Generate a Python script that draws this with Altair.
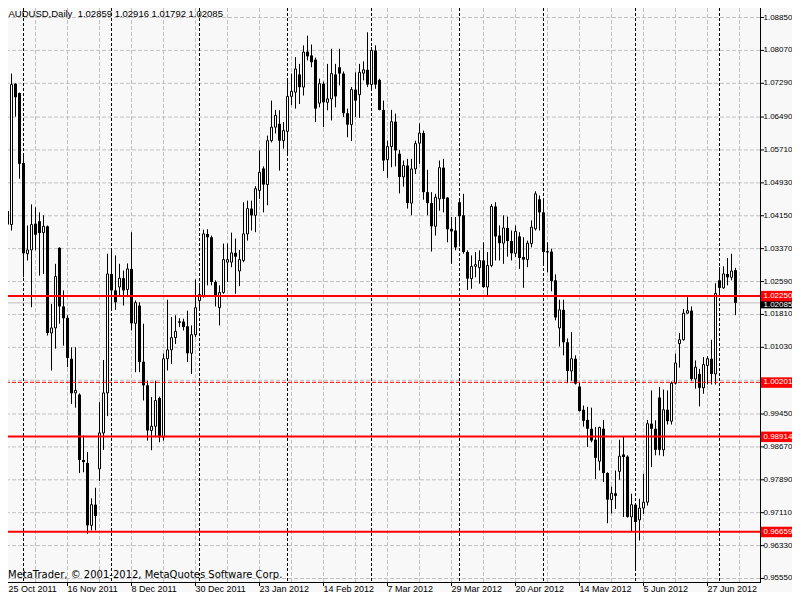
import altair as alt
import pandas as pd

# ---------------- data ----------------
bar_index = list(range(184))  # 0 = 25 Oct 2011 ... 183 = 6 Jul 2012 (daily bars)

opens = [1.0471, 1.0426, 1.0394, 1.0728, 1.0706, 1.0540, 1.0325, 1.0334, 1.0396, 1.0402,
         1.0375, 1.0390, 1.0137, 1.0149, 1.0339, 1.0200, 1.0173, 1.0076, 0.9995, 0.9991,
         0.9836, 0.9829, 0.9681, 0.9730, 0.9815, 0.9900, 0.9995, 1.0277, 1.0238, 1.0246,
         1.0267, 1.0240, 1.0289, 1.0160, 1.0202, 1.0069, 1.0013, 0.9906, 0.9916, 0.9983,
         0.9890, 1.0076, 1.0097, 1.0126, 1.0162, 1.0164, 1.0153, 1.0089, 1.0133, 1.0214,
         1.0226, 1.0372, 1.0364, 1.0258, 1.0197, 1.0233, 1.0305, 1.0305, 1.0327, 1.0284,
         1.0309, 1.0372, 1.0432, 1.0416, 1.0475, 1.0527, 1.0489, 1.0593, 1.0625, 1.0633,
         1.0593, 1.0615, 1.0698, 1.0708, 1.0750, 1.0720, 1.0804, 1.0795, 1.0785, 1.0682,
         1.0728, 1.0684, 1.0692, 1.0750, 1.0767, 1.0752, 1.0658, 1.0631, 1.0714, 1.0702,
         1.0753, 1.0761, 1.0726, 1.0807, 1.0737, 1.0666, 1.0548, 1.0579, 1.0638, 1.0562,
         1.0507, 1.0534, 1.0445, 1.0526, 1.0587, 1.0611, 1.0471, 1.0445, 1.0390, 1.0455,
         1.0529, 1.0458, 1.0384, 1.0380, 1.0447, 1.0416, 1.0329, 1.0266, 1.0295, 1.0292,
         1.0309, 1.0246, 1.0297, 1.0437, 1.0368, 1.0350, 1.0386, 1.0355, 1.0326, 1.0366,
         1.0317, 1.0311, 1.0349, 1.0384, 1.0454, 1.0423, 1.0331, 1.0330, 1.0262, 1.0149,
         1.0192, 1.0115, 1.0047, 1.0076, 1.0010, 0.9955, 0.9931, 0.9910, 0.9884, 0.9833,
         0.9910, 0.9805, 0.9742, 0.9757, 0.9809, 0.9849, 0.9844, 0.9701, 0.9730, 0.9694,
         0.9722, 0.9736, 0.9922, 0.9910, 0.9984, 0.9860, 0.9955, 0.9928, 1.0018, 1.0112,
         1.0121, 1.0184, 1.0190, 1.0028, 1.0040, 1.0007, 1.0060, 1.0076, 1.0040, 1.0262,
         1.0244, 1.0277, 1.0269, 1.02859]

highs = [1.0495, 1.0432, 1.0752, 1.0729, 1.0707, 1.0563, 1.0392, 1.0442, 1.0435, 1.0423,
         1.0416, 1.0392, 1.0206, 1.0301, 1.0340, 1.0238, 1.0179, 1.0103, 1.0103, 0.9994,
         0.9894, 0.9855, 0.9745, 0.9770, 0.9973, 1.0073, 1.0325, 1.0333, 1.0321, 1.0301,
         1.0285, 1.0302, 1.0376, 1.0214, 1.0210, 1.0159, 1.0024, 0.9985, 1.0024, 0.9986,
         1.0088, 1.0216, 1.0175, 1.0179, 1.0172, 1.0171, 1.0190, 1.0155, 1.0264, 1.0250,
         1.0382, 1.0383, 1.0368, 1.0262, 1.0250, 1.0349, 1.0349, 1.0375, 1.0361, 1.0334,
         1.0447, 1.0451, 1.0451, 1.0485, 1.0570, 1.0532, 1.0605, 1.0688, 1.0666, 1.0665,
         1.0637, 1.0736, 1.0752, 1.0791, 1.0775, 1.0819, 1.0842, 1.0821, 1.0790, 1.0740,
         1.0733, 1.0775, 1.0811, 1.0775, 1.0811, 1.0757, 1.0669, 1.0720, 1.0755, 1.0775,
         1.0781, 1.0850, 1.0815, 1.0819, 1.0740, 1.0688, 1.0593, 1.0666, 1.0657, 1.0571,
         1.0546, 1.0550, 1.0550, 1.0593, 1.0634, 1.0617, 1.0524, 1.0471, 1.0467, 1.0546,
         1.0550, 1.0459, 1.0412, 1.0412, 1.0455, 1.0467, 1.0333, 1.0321, 1.0329, 1.0333,
         1.0352, 1.0329, 1.0443, 1.0447, 1.0392, 1.0416, 1.0413, 1.0380, 1.0392, 1.0376,
         1.0364, 1.0356, 1.0404, 1.0473, 1.0463, 1.0455, 1.0352, 1.0337, 1.0276, 1.0216,
         1.0216, 1.0124, 1.0139, 1.0084, 1.0020, 0.9965, 0.9962, 0.9960, 0.9914, 0.9915,
         0.9931, 0.9807, 0.9773, 0.9811, 0.9884, 0.9891, 0.9847, 0.9756, 0.9733, 0.9744,
         0.9803, 0.9931, 1.0001, 0.9930, 1.0009, 1.0003, 1.0001, 1.0022, 1.0088, 1.0137,
         1.0194, 1.0222, 1.0200, 1.0072, 1.0052, 1.0080, 1.0082, 1.0121, 1.0255, 1.0293,
         1.0295, 1.0315, 1.0325, 1.02916]

lows = [1.0396, 1.0317, 1.0380, 1.0650, 1.0503, 1.0269, 1.0309, 1.0198, 1.0333, 1.0273,
        1.0277, 1.0131, 1.0048, 1.0100, 1.0159, 1.0107, 1.0056, 0.9969, 0.9960, 0.9805,
        0.9807, 0.9661, 0.9669, 0.9669, 0.9786, 0.9860, 0.9940, 1.0192, 1.0192, 1.0226,
        1.0202, 1.0222, 1.0143, 1.0044, 1.0044, 0.9977, 0.9882, 0.9859, 0.9890, 0.9878,
        0.9882, 1.0048, 1.0064, 1.0111, 1.0151, 1.0143, 1.0068, 1.0040, 1.0127, 1.0190,
        1.0221, 1.0250, 1.0250, 1.0200, 1.0155, 1.0230, 1.0258, 1.0293, 1.0230, 1.0248,
        1.0305, 1.0356, 1.0380, 1.0376, 1.0455, 1.0423, 1.0440, 1.0589, 1.0610, 1.0522,
        1.0574, 1.0558, 1.0677, 1.0669, 1.0680, 1.0700, 1.0783, 1.0767, 1.0637, 1.0672,
        1.0625, 1.0665, 1.0641, 1.0672, 1.0724, 1.0649, 1.0601, 1.0592, 1.0649, 1.0647,
        1.0736, 1.0720, 1.0716, 1.0716, 1.0665, 1.0521, 1.0505, 1.0530, 1.0532, 1.0468,
        1.0484, 1.0432, 1.0416, 1.0514, 1.0538, 1.0453, 1.0416, 1.0330, 1.0368, 1.0427,
        1.0423, 1.0352, 1.0301, 1.0333, 1.0342, 1.0325, 1.0239, 1.0242, 1.0269, 1.0254,
        1.0244, 1.0226, 1.0293, 1.0309, 1.0309, 1.0301, 1.0318, 1.0309, 1.0317, 1.0289,
        1.0244, 1.0293, 1.0340, 1.0380, 1.0380, 1.0301, 1.0281, 1.0236, 1.0167, 1.0105,
        1.0084, 1.0018, 1.0024, 1.0015, 0.9951, 0.9915, 0.9867, 0.9878, 0.9791, 0.9811,
        0.9784, 0.9686, 0.9709, 0.9720, 0.9789, 0.9701, 0.9699, 0.9667, 0.9579, 0.9645,
        0.9708, 0.9728, 0.9819, 0.9847, 0.9847, 0.9845, 0.9920, 0.9920, 1.0015, 1.0055,
        1.0119, 1.0183, 1.0024, 1.0005, 0.9963, 0.9993, 1.0015, 1.0015, 1.0015, 1.0230,
        1.0242, 1.0250, 1.0262, 1.01792]

closes = [1.0423, 1.0394, 1.0726, 1.0696, 1.0538, 1.0326, 1.0334, 1.0394, 1.0370, 1.0374,
          1.0390, 1.0137, 1.0149, 1.0271, 1.0200, 1.0172, 1.0078, 0.9994, 1.0001, 0.9836,
          0.9831, 0.9681, 0.9730, 0.9703, 0.9900, 0.9995, 1.0277, 1.0238, 1.0210, 1.0267,
          1.0238, 1.0289, 1.0160, 1.0209, 1.0068, 1.0013, 0.9906, 0.9916, 0.9977, 0.9890,
          1.0076, 1.0097, 1.0126, 1.0141, 1.0164, 1.0151, 1.0089, 1.0133, 1.0197, 1.0228,
          1.0372, 1.0364, 1.0258, 1.0226, 1.0233, 1.0311, 1.0311, 1.0327, 1.0318, 1.0311,
          1.0372, 1.0432, 1.0416, 1.0479, 1.0518, 1.0489, 1.0593, 1.0625, 1.0653, 1.0593,
          1.0617, 1.0698, 1.0710, 1.0763, 1.0720, 1.0803, 1.0793, 1.0779, 1.0669, 1.0728,
          1.0684, 1.0692, 1.0752, 1.0698, 1.0752, 1.0658, 1.0631, 1.0714, 1.0688, 1.0755,
          1.0761, 1.0726, 1.0807, 1.0726, 1.0666, 1.0546, 1.0579, 1.0638, 1.0570, 1.0507,
          1.0534, 1.0445, 1.0526, 1.0586, 1.0611, 1.0471, 1.0445, 1.0390, 1.0459, 1.0529,
          1.0455, 1.0383, 1.0378, 1.0340, 1.0414, 1.0329, 1.0266, 1.0295, 1.0299, 1.0309,
          1.0246, 1.0297, 1.0437, 1.0366, 1.0350, 1.0386, 1.0355, 1.0326, 1.0378, 1.0315,
          1.0311, 1.0350, 1.0388, 1.0467, 1.0423, 1.0329, 1.0328, 1.0260, 1.0174, 1.0192,
          1.0115, 1.0047, 1.0076, 1.0017, 0.9952, 0.9929, 0.9910, 0.9882, 0.9841, 0.9913,
          0.9805, 0.9742, 0.9757, 0.9751, 0.9845, 0.9843, 0.9701, 0.9730, 0.9689, 0.9722,
          0.9736, 0.9922, 0.9910, 0.9860, 0.9860, 0.9955, 0.9928, 1.0018, 1.0066, 1.0121,
          1.0184, 1.0190, 1.0028, 1.0056, 1.0007, 1.0062, 1.0076, 1.0040, 1.0231, 1.0244,
          1.0277, 1.0269, 1.0284, 1.02085]

date_labels = ["25 Oct 2011", "16 Nov 2011", "8 Dec 2011", "30 Dec 2011", "23 Jan 2012",
               "14 Feb 2012", "7 Mar 2012", "29 Mar 2012", "20 Apr 2012", "14 May 2012",
               "5 Jun 2012", "27 Jun 2012"]
label_bars = [0, 16, 32, 48, 64, 80, 96, 112, 128, 144, 160, 176]
month_start_bars = [5, 27, 49, 71, 92, 114, 135, 158, 179]
grid_bars = [8, 16, 24, 32, 40, 48, 56, 64, 72, 80, 88, 96, 104, 112, 120, 128, 136,
             144, 152, 160, 168, 176, 184]

price_ticks = [1.08850, 1.08070, 1.07290, 1.06490, 1.05710, 1.04930, 1.04150, 1.03370,
               1.02590, 1.01810, 1.01030, 0.99450, 0.98670, 0.97890, 0.97110, 0.96330,
               0.95550]
price_tick_labels = ["1.08850", "1.08070", "1.07290", "1.06490", "1.05710", "1.04930",
                     "1.04150", "1.03370", "1.02590", "1.01810", "1.01030", "0.99450",
                     "0.98670", "0.97890", "0.97110", "0.96330", "0.95550"]
grid_prices = price_ticks + [1.00250]

red_levels = [1.02250, 0.98914, 0.96659]
dashed_level = [1.00201]
bid_level = [1.02085]
bid_text = ["1.02085"]
tag_levels = [1.02250, 1.00201, 0.98914, 0.96659]
tag_texts = ["1.02250", "1.00201", "0.98914", "0.96659"]

title_text = "AUDUSD,Daily\u00a0 1.02859 1.02916 1.01792 1.02085"
copyright_text = "MetaTrader, \u00a9 2001-2012, MetaQuotes Software Corp."

# ---------------- build ----------------
W, H = 752, 574
FONT = "Liberation Sans"
xs = alt.Scale(domain=[1.125, 189.125], nice=False, zero=False)
ys = alt.Scale(domain=[0.954670, 1.090753], nice=False, zero=False)

df = pd.DataFrame({"i": bar_index, "open": opens, "high": highs,
                   "low": lows, "close": closes})
df["top"] = df[["open", "close"]].max(axis=1)
df["bot"] = df[["open", "close"]].min(axis=1)
bull = df[df["close"] >= df["open"]]
bear = df[df["close"] < df["open"]]


def X(f):
    return alt.X(f, type="quantitative", scale=xs, axis=None)


def Y(f):
    return alt.Y(f, type="quantitative", scale=ys, axis=None)


vgrid = alt.Chart(pd.DataFrame({"i": grid_bars})).mark_rule(
    color="#c0c0c0", strokeDash=[4, 2], strokeWidth=1).encode(x=X("i"))
hgrid = alt.Chart(pd.DataFrame({"p": grid_prices})).mark_rule(
    color="#c0c0c0", strokeDash=[4, 2], strokeWidth=1).encode(y=Y("p"))
seps = alt.Chart(pd.DataFrame({"i": month_start_bars})).mark_rule(
    color="#000000", strokeDash=[3, 2], strokeWidth=1).encode(x=X("i"))
bidline = alt.Chart(pd.DataFrame({"p": bid_level})).mark_rule(
    color="#c0c0c0", strokeWidth=1).encode(y=Y("p"))

wicks = alt.Chart(df).mark_rule(color="#000000", strokeWidth=1).encode(
    x=X("i"), y=Y("low"), y2="high:Q")
bear_bodies = alt.Chart(bear).transform_calculate(
    xl="datum.i - 0.375", xr="datum.i + 0.375").mark_rect(
    color="#000000").encode(x=X("xl"), x2="xr:Q", y=Y("top"), y2="bot:Q")
bull_bodies = alt.Chart(bull).transform_calculate(
    xl="datum.i - 0.25", xr="datum.i + 0.25").mark_rect(
    fill="#ffffff", stroke="#000000", strokeWidth=1).encode(
    x=X("xl"), x2="xr:Q", y=Y("top"), y2="bot:Q")

red_lines = alt.Chart(pd.DataFrame({"p": red_levels})).mark_rule(
    color="#ff0000", strokeWidth=2).encode(y=Y("p"))
red_dash = alt.Chart(pd.DataFrame({"p": dashed_level})).mark_rule(
    color="#ff0000", strokeDash=[4, 2], strokeWidth=1).encode(y=Y("p"))

# frame (right and bottom border) and the price / date scales
frame_right = alt.Chart(pd.DataFrame({"k": [0]})).mark_rule(
    color="#000000", strokeWidth=1).encode(
    x=alt.value(752.5), y=alt.value(0), y2=alt.value(574))
frame_bottom = alt.Chart(pd.DataFrame({"k": [0]})).mark_rule(
    color="#000000", strokeWidth=1).encode(
    x=alt.value(0), x2=alt.value(753), y=alt.value(574.5))

ptick = pd.DataFrame({"p": price_ticks, "t": price_tick_labels})
price_ticks_marks = alt.Chart(ptick).mark_rule(color="#000000", strokeWidth=1).encode(
    x=alt.value(753), x2=alt.value(756), y=Y("p"))
price_labels_marks = alt.Chart(ptick).mark_text(
    align="left", baseline="middle", font=FONT, fontSize=8, color="#000000").encode(
    x=alt.value(755.5), y=Y("p"), text="t:N")

dtick = pd.DataFrame({"i": label_bars[1:], "t": date_labels[1:]})
date_ticks_marks = alt.Chart(dtick).mark_rule(color="#000000", strokeWidth=1).encode(
    x=X("i"), y=alt.value(575), y2=alt.value(578))
date_labels_marks = alt.Chart(dtick).mark_text(
    align="left", baseline="alphabetic", font=FONT, fontSize=9, color="#000000").encode(
    x=X("i"), y=alt.value(583.5), text="t:N")
first_date = alt.Chart(pd.DataFrame({"t": date_labels[:1]})).mark_text(
    align="left", baseline="alphabetic", font=FONT, fontSize=9,
    color="#000000").encode(x=alt.value(0.5), y=alt.value(583.5), text="t:N")

title = alt.Chart(pd.DataFrame({"t": [title_text]})).mark_text(
    align="left", baseline="alphabetic", font=FONT, fontSize=9.5,
    color="#000000").encode(x=alt.value(0.5), y=alt.value(9), text="t:N")
copyright = alt.Chart(pd.DataFrame({"t": [copyright_text]})).mark_text(
    align="left", baseline="alphabetic", font="DejaVu Sans", fontSize=10,
    color="#000000").encode(x=alt.value(0), y=alt.value(570), text="t:N")

bid_tag = alt.Chart(pd.DataFrame({"p": bid_level, "t": bid_text}))
bid_box = bid_tag.mark_rect(color="#000000", yOffset=-5, y2Offset=5.5).encode(
    x=alt.value(753), x2=alt.value(784), y=Y("p"), y2="p:Q")
bid_txt = bid_tag.mark_text(align="left", baseline="middle", font=FONT, dy=2,
                            fontSize=8, color="#ffffff").encode(
    x=alt.value(755.5), y=Y("p"), text="t:N")

tags = alt.Chart(pd.DataFrame({"p": tag_levels, "t": tag_texts}))
tag_box = tags.mark_rect(color="#ff0000", yOffset=-5, y2Offset=5.5).encode(
    x=alt.value(753), x2=alt.value(784), y=Y("p"), y2="p:Q")
tag_txt = tags.mark_text(align="left", baseline="middle", font=FONT,
                         fontSize=8, color="#ffffff").encode(
    x=alt.value(755.5), y=Y("p"), text="t:N")

chart = alt.layer(
    vgrid, hgrid, seps, bidline, wicks, bear_bodies, bull_bodies,
    red_lines, red_dash, frame_right, frame_bottom,
    price_ticks_marks, price_labels_marks, date_ticks_marks, date_labels_marks,
    first_date, title, copyright,
    bid_box, bid_txt, tag_box, tag_txt,
).properties(
    width=W, height=H,
    background="#f8f8f8",
    autosize=alt.AutoSizeParams(type="none"),
    padding={"left": 0, "top": 0, "right": 32, "bottom": 10},
).configure_view(stroke="transparent", fill="#f8f8f8")

chart.save("out.html", embed_options={"renderer": "svg", "actions": False})
